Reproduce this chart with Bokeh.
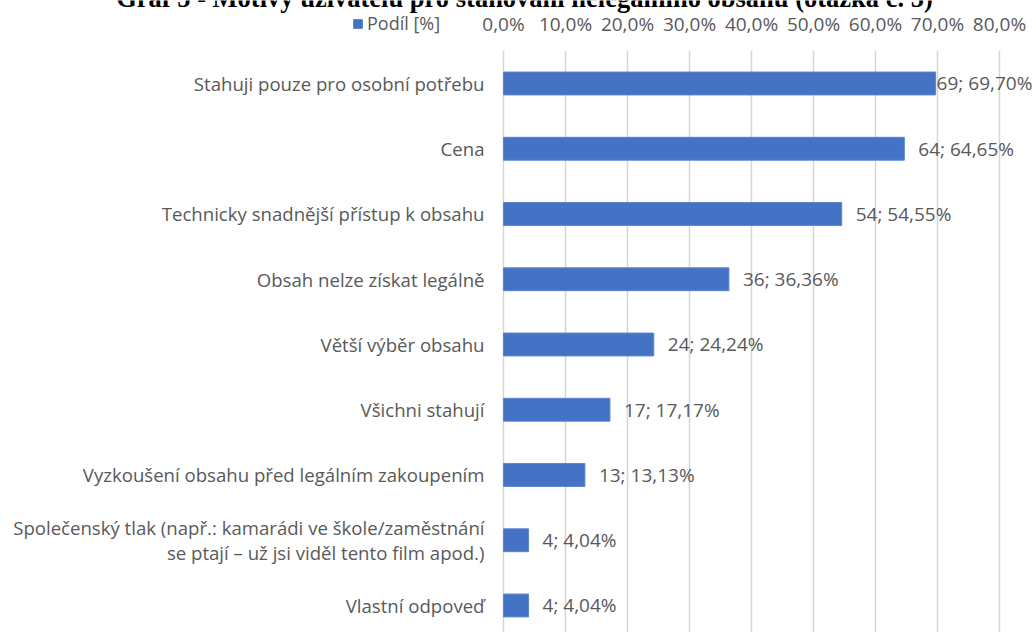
from bokeh.plotting import figure
from bokeh.models import Range1d, ColumnDataSource, Legend, LegendItem, Label
from bokeh.core.properties import value
from bokeh.embed import file_html
from bokeh.resources import INLINE

title_text = "Graf 5 - Motivy uživatelů pro stahování nelegálního obsahu (otázka č. 5)"
series_name = "Podíl [%]"
categories = [
    "Stahuji pouze pro osobní potřebu",
    "Cena",
    "Technicky snadnější přístup k obsahu",
    "Obsah nelze získat legálně",
    "Větší výběr obsahu",
    "Všichni stahují",
    "Vyzkoušení obsahu před legálním zakoupením",
    "Společenský tlak (např.: kamarádi ve škole/zaměstnání\nse ptají – už jsi viděl tento film apod.)",
    "Vlastní odpoveď",
]
counts = [69, 64, 54, 36, 24, 17, 13, 4, 4]
shares = [69.70, 64.65, 54.55, 36.36, 24.24, 17.17, 13.13, 4.04, 4.04]
tick_values = [0, 10, 20, 30, 40, 50, 60, 70, 80]
tick_labels = ["0,0%", "10,0%", "20,0%", "30,0%", "40,0%", "50,0%", "60,0%", "70,0%", "80,0%"]

FONT = "Open Sans"
GRAY = "#595959"

n = len(categories)
ypos = list(range(n))
labels = [f"{c}; {s:.2f}%".replace(".", ",") for c, s in zip(counts, shares)]
offsets = [1 if s > 65 else 14 for s in shares]

src = ColumnDataSource(dict(y=ypos, cat=categories, share=shares, lab=labels, off=offsets,
                            zero=[0] * n))
tsrc = ColumnDataSource(dict(x=tick_values, lab=tick_labels,
                             top=[-0.5] * len(tick_values), bot=[n + 0.5] * len(tick_values)))

W, H = 1035, 632
p = figure(width=W, height=H, output_backend="svg", toolbar_location=None,
           x_range=Range1d(-81.13, 85.81), y_range=Range1d(8.414, -1.272),
           x_axis_location=None, y_axis_location=None,
           min_border=0)
p.outline_line_color = None
p.background_fill_color = "white"
p.xgrid.visible = False
p.ygrid.visible = False

# vertical gridlines at the tick values
p.segment(x0="x", y0="top", x1="x", y1="bot", source=tsrc,
          line_color="#d6d6d6", line_width=1.5)

# tick labels along the top
p.text(x="x", y="top", text="lab", source=tsrc, y_offset=-27,
       text_align="center", text_baseline="middle", text_font=value(FONT),
       text_font_size="19px", text_color=GRAY)

bars = p.hbar(y="y", left="zero", right="share", height=0.35, source=src,
              fill_color="#4472C4", line_color="#5a84d0", line_width=1)

# category labels
p.text(x="zero", y="y", text="cat", source=src, x_offset=-19,
       text_align="right", text_baseline="middle", text_font=value(FONT),
       text_font_size="18.6px", text_color=GRAY, text_line_height=0.98)

# data labels
p.text(x="share", y="y", text="lab", source=src, x_offset="off",
       text_align="left", text_baseline="middle", text_font=value(FONT),
       text_font_size="19px", text_color=GRAY)

legend = Legend(items=[LegendItem(label=series_name, renderers=[bars])],
                location=(352, 597), orientation="horizontal",
                padding=0, margin=0, spacing=0, label_standoff=4,
                glyph_width=11, glyph_height=11,
                background_fill_alpha=0, border_line_color=None,
                label_text_font=FONT, label_text_font_size="18px", label_text_color=GRAY)
p.add_layout(legend, "center")

p.add_layout(Label(x=524, y=H + 3, x_units="screen", y_units="screen", text=title_text,
                   text_align="center", text_baseline="alphabetic",
                   text_font="Liberation Serif", text_font_style="bold",
                   text_font_size="26.5px", text_color="black"))

open("out.html", "w").write(file_html(p, INLINE))
